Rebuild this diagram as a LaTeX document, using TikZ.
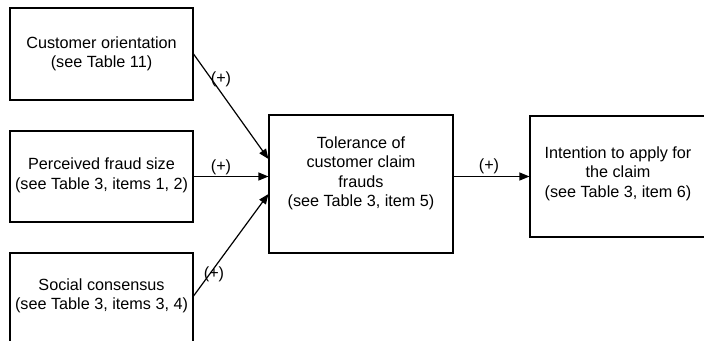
\documentclass[tikz,border=0pt]{standalone}
\usepackage{fontspec}
\setmainfont{Liberation Sans}
\usetikzlibrary{arrows.meta,calc}
\begin{document}
\begin{tikzpicture}[x=1pt,y=-1pt,
  box/.style={draw, line width=1.1pt, inner sep=0pt},
  txt/.style={align=center, inner sep=0pt, font=\fontsize{16.2}{19.5}\selectfont},
  lbl/.style={inner sep=0pt, font=\fontsize{16.2}{19.5}\selectfont},
  conn/.style={line width=1.2pt, -{Triangle[length=10pt,width=8pt]}}]
\useasboundingbox (0,0) rectangle (704,340);
% boxes
\node[box, minimum width=183pt, minimum height=92pt] (b1) at (101.5,54) {};
\node[box, minimum width=183pt, minimum height=91pt] (b2) at (101.5,176.5) {};
\node[box, minimum width=183pt, minimum height=120pt] (b3) at (101.5,313) {};
\node[box, minimum width=184pt, minimum height=138pt] (mid) at (361,184) {};
\node[box, minimum width=176pt, minimum height=121pt] (rt) at (618,176.5) {};
% texts
\node[txt] (t1) at (101.5,54) {Customer orientation\\(see Table 11)};
\node[txt] (t2) at (101.5,175.5) {Perceived fraud size\\(see Table 3, items 1, 2)};
\node[txt] (t3) at (101.5,296) {Social consensus\\(see Table 3, items 3, 4)};
\node[txt] (tm) at (361,173.5) {Tolerance of\\customer claim\\frauds\\(see Table 3, item 5)};
\node[txt] (tr) at (618,173.5) {Intention to apply for\\the claim\\(see Table 3, item 6)};
% connector end points
\coordinate (e1) at ($(mid.west |- b2.east)+(0,-17.5)$);
\coordinate (e2) at (mid.west |- b2.east);
\coordinate (e3) at ($(mid.west |- b2.east)+(0,17.5)$);
% connectors
\draw[conn] (b1.east) -- (e1);
\draw[conn] (b2.east) -- (e2);
\draw[conn] (b3.east |- t3.center) -- (e3);
\draw[conn] (mid.east |- rt.west) -- (rt.west);
% labels
\node[lbl] (l1) at (221,79) {(+)};
\node[lbl] (l2) at (221,167) {(+)};
\node[lbl] (l3) at (214,274) {(+)};
\node[lbl] (l4) at (489,166) {(+)};
\end{tikzpicture}
\end{document}
